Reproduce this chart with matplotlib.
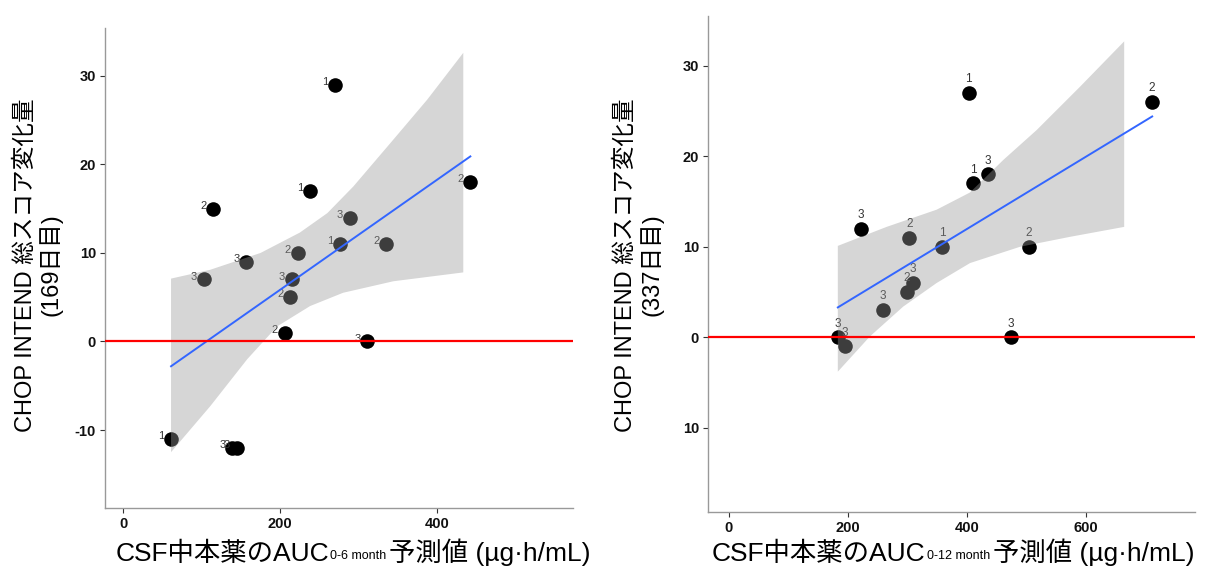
import matplotlib
matplotlib.use('Agg')
import matplotlib.pyplot as plt

plt.rcParams['font.family'] = ['Liberation Sans', 'Noto Sans CJK JP']

# left panel: CSF AUC 0-6 month vs CHOP INTEND change at day 169
auc6 = [270, 238, 115, 289, 276, 335, 222, 157, 103, 215, 213, 206, 311, 61, 139, 145, 442]
chg169 = [29, 17, 15, 14, 11, 11, 10, 9, 7, 7, 5, 1, 0, -11, -12, -12, 18]
lab169 = ['1', '1', '2', '3', '1', '2', '2', '3', '3', '3', '2', '2', '3', '1', '3', '3', '2']
fit6_x = [61, 442]
fit6_y = [-2.8, 20.9]
hi6_x = [61, 111, 175, 225, 260, 293, 344, 387, 433]
hi6_y = [7.1, 8.1, 10.0, 12.3, 14.5, 17.5, 22.8, 27.3, 32.6]
lo6_x = [61, 111, 158, 196, 238, 280, 344, 433]
lo6_y = [-12.5, -7.3, -2.0, 1.7, 4.0, 5.5, 6.8, 7.8]

# right panel: CSF AUC 0-12 month vs change at day 337
auc12 = [403, 410, 435, 222, 303, 358, 504, 309, 299, 259, 183, 195, 474, 711]
chg337 = [27, 17, 18, 12, 11, 10, 10, 6, 5, 3, 0, -1, 0, 26]
lab337 = ['1', '1', '3', '3', '2', '1', '2', '3', '2', '3', '3', '3', '3', '2']
fit12_x = [183, 711]
fit12_y = [3.3, 24.4]
hi12_x = [183, 265, 349, 405, 461, 517, 590, 664]
hi12_y = [10.1, 12.2, 14.1, 16.0, 19.6, 22.9, 27.7, 32.7]
lo12_x = [183, 237, 293, 349, 405, 489, 573, 664]
lo12_y = [-3.8, 0.1, 3.4, 6.0, 8.2, 10.0, 11.1, 12.2]

yticks = [30, 20, 10, 0, -10]
ylab6 = ['30', '20', '10', '0', '-10']
ylab12 = ['30', '20', '10', '0', '10']
xticks6 = [0, 200, 400]
xticks12 = [0, 200, 400, 600]

fig = plt.figure(figsize=(12.13, 5.72), dpi=100)
ax1 = fig.add_axes([0.0866, 0.112, 0.386, 0.839])
ax2 = fig.add_axes([0.5837, 0.105, 0.4015, 0.867])


def panel(ax, x, y, labels, fx, fy, hx, hy, lx, ly, xticks, ylabels, left_labels):
    ax.scatter(x, y, s=110, color='black', zorder=2, linewidths=0)
    for xi, yi, t in zip(x, y, labels):
        if left_labels:
            ax.annotate(t, (xi, yi), xytext=(-5, 2), textcoords='offset points',
                        ha='right', va='center', fontsize=8, color='#333333', zorder=2.5)
        else:
            ax.annotate(t, (xi, yi), xytext=(0, 5.5), textcoords='offset points',
                        ha='center', va='bottom', fontsize=8.5, color='#333333', zorder=2.5)
    ax.fill(list(hx) + lx[::-1], list(hy) + ly[::-1], color='#999999', alpha=0.4,
            linewidth=0, zorder=3)
    ax.plot(fx, fy, color='#3366FF', lw=1.4, zorder=4)
    ax.axhline(0, color='#ff0000', lw=1.6, zorder=5)
    ax.set_yticks(yticks)
    ax.set_yticklabels(ylabels)
    ax.set_xticks(xticks)
    for sp in ['top', 'right']:
        ax.spines[sp].set_visible(False)
    for sp in ['left', 'bottom']:
        ax.spines[sp].set_color('#999999')
        ax.spines[sp].set_linewidth(1.0)
    ax.tick_params(length=3.5, width=0.8, color='#333333', labelsize=10.5, pad=3)
    for t in ax.get_xticklabels() + ax.get_yticklabels():
        t.set_fontweight('bold')
        t.set_color('#111111')


panel(ax1, auc6, chg169, lab169, fit6_x, fit6_y, hi6_x, hi6_y, lo6_x, lo6_y,
      xticks6, ylab6, True)
ax1.set_xlim(-23, 573)
ax1.set_ylim(-18.8, 35.4)

panel(ax2, auc12, chg337, lab337, fit12_x, fit12_y, hi12_x, hi12_y, lo12_x, lo12_y,
      xticks12, ylab12, False)
ax2.set_xlim(-35, 783)
ax2.set_ylim(-19.3, 35.5)

# y axis titles
fig.text(0.032, 0.537, 'CHOP INTEND 総スコア変化量\n(169日目)', rotation=90,
         ha='center', va='center', multialignment='center', fontsize=17, linespacing=1.1)
fig.text(0.527, 0.537, 'CHOP INTEND 総スコア変化量\n(337日目)', rotation=90,
         ha='center', va='center', multialignment='center', fontsize=17, linespacing=1.1)


# x axis titles: main text, small subscript, then the rest chained after it
def xtitle(x0, sub):
    t1 = fig.text(x0, 0.019, 'CSF中本薬のAUC', fontsize=19, ha='left', va='baseline')
    t2 = fig.add_artist(plt.Annotation(sub, xy=(1, 0), xycoords=t1, xytext=(1, 3),
                                       textcoords='offset points', fontsize=9,
                                       ha='left', va='bottom', annotation_clip=False))
    fig.add_artist(plt.Annotation('予測値 (µg·h/mL)', xy=(1, 0), xycoords=t2,
                                  xytext=(2, -3), textcoords='offset points',
                                  fontsize=19, ha='left', va='bottom',
                                  annotation_clip=False))


xtitle(0.095, '0-6 month')
xtitle(0.587, '0-12 month')

fig.savefig('out.png', dpi=100)
